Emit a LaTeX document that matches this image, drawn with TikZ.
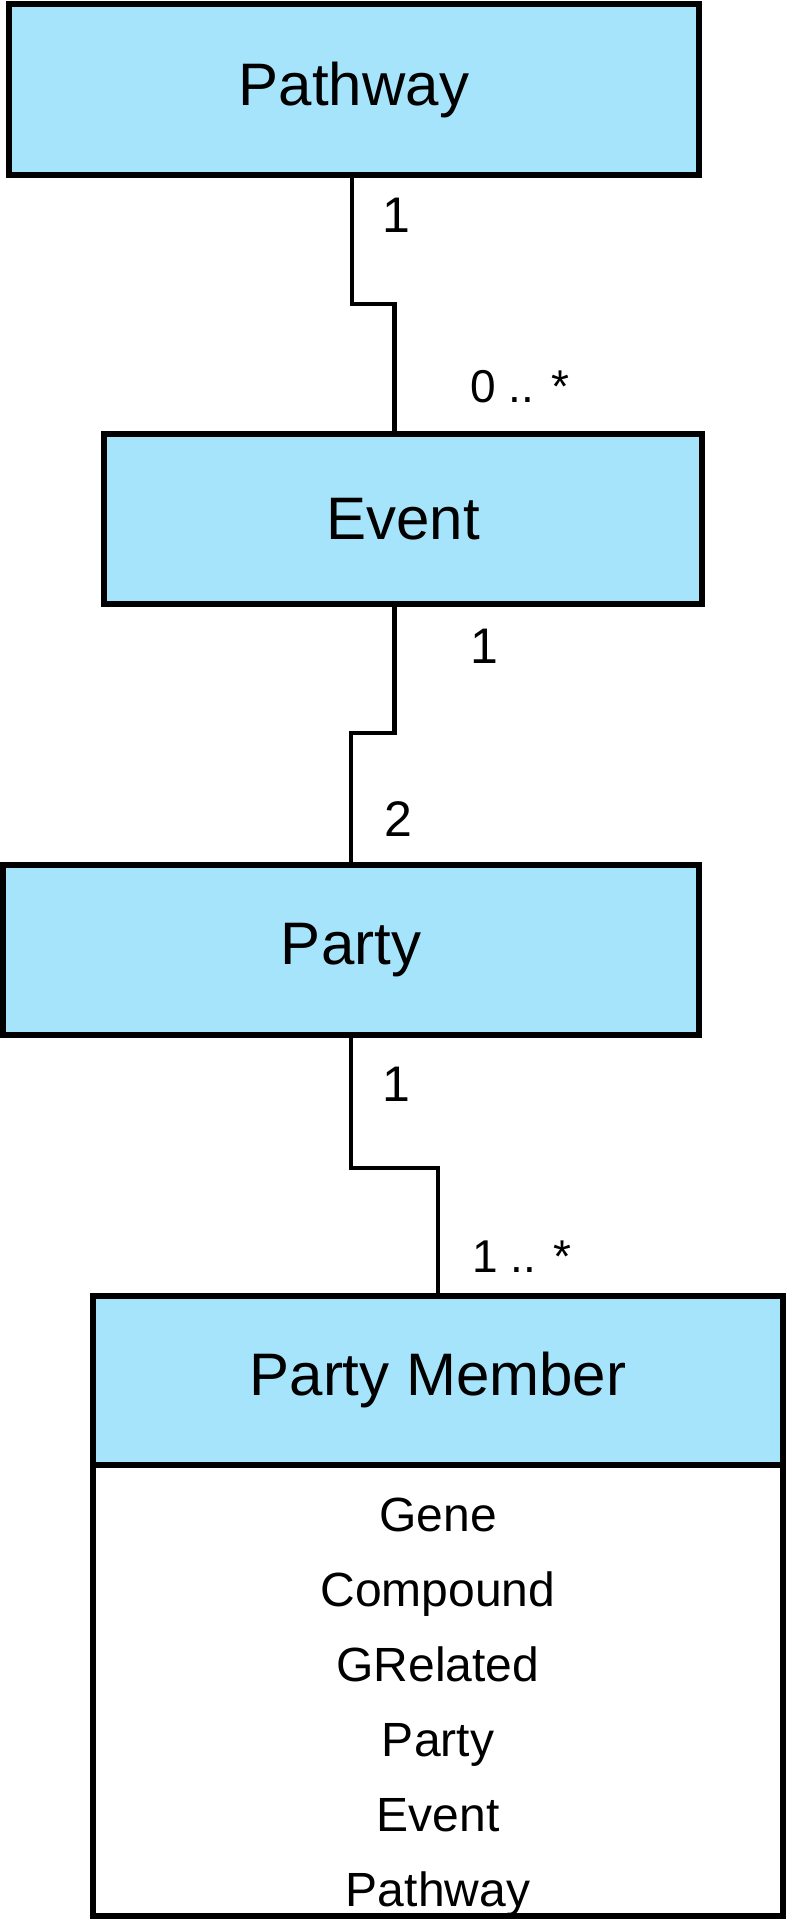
\documentclass[tikz,border=0pt]{standalone}
\usepackage{fontspec}
\setmainfont{Liberation Sans}
\usepackage{tikz}
\usetikzlibrary{positioning}
\definecolor{classblue}{RGB}{166,228,252}
\tikzset{
  classbox/.style={rectangle, draw=black, fill=classblue, line width=3pt,
    outer sep=0pt, inner sep=0pt, text centered,
    font=\fontsize{30pt}{36pt}\selectfont},
  listbox/.style={classbox, fill=white},
  entry/.style={font=\fontsize{24pt}{28pt}\selectfont, inner sep=0pt},
  mult/.style={font=\fontsize{25pt}{30pt}\selectfont, inner sep=0pt},
  multrange/.style={font=\fontsize{23pt}{28pt}\selectfont, inner sep=0pt},
  link/.style={line width=2.2pt, line join=miter},
}
\begin{document}
\begin{tikzpicture}[x=0.5pt, y=-0.5pt]
  \useasboundingbox (0,0) rectangle (792,1926);
  % Classes
  \node[classbox, minimum width=345pt, minimum height=85.25pt] (pathway)
    at (354,89.75) {Pathway};
  \node[classbox, minimum width=299pt, minimum height=85.15pt] (event)
    at (403,518.85) {Event};
  \node[classbox, minimum width=348pt, minimum height=85.25pt] (party)
    at (351,949.75) {Party};
  \node[classbox, minimum width=345pt, minimum height=84.75pt] (member)
    at (438,1380.25) {Party Member};
  \node[listbox, minimum width=345pt, minimum height=225.5pt,
    below=0pt of member] (memberlist) {};
  % Members of the party
  \foreach \entryname [count=\i] in {Gene,Compound,GRelated,Party,Event,Pathway}
    \node[entry, anchor=base] (entry\i) at (438,{1531+75*(\i-1)}) {\entryname};
  % Associations
  \draw[link] ([xshift=-1pt]pathway.south) -- ++(0,129)
    -| ([xshift=-4.25pt]event.north);
  \draw[link] ([xshift=-4.25pt]event.south) -- ++(0,129) -| (party.north);
  \draw[link] (party.south) -- ++(0,133) -| (member.north);
  % Multiplicities
  \node[mult] (m1) at (396,215) {1};
  \node[multrange] (m2) at (520,387) {0 .. *};
  \node[mult] (m3) at (484.5,646) {1};
  \node[mult] (m4) at (398,819.5) {2};
  \node[mult] (m5) at (396,1084) {1};
  \node[multrange] (m6) at (522,1257) {1 .. *};
\end{tikzpicture}
\end{document}
